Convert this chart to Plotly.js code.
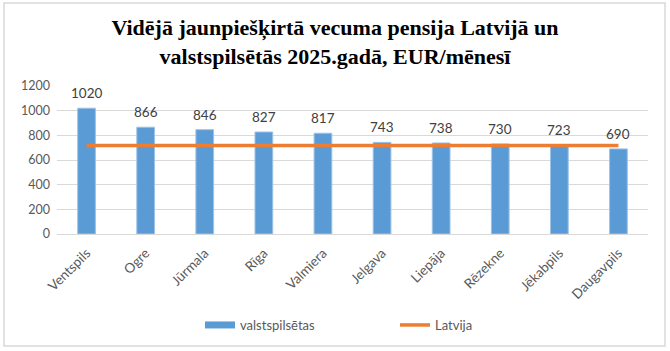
<!DOCTYPE html>
<html><head><meta charset="utf-8">
<script src="https://cdn.plot.ly/plotly-3.0.1.min.js"></script>
<style>html,body{margin:0;padding:0;background:#fff}#chart{width:670px;height:351px}</style>
</head><body><div id="chart"></div>
<script>
const categories = ["Ventspils","Ogre","Jūrmala","Rīga","Valmiera","Jelgava","Liepāja","Rēzekne","Jēkabpils","Daugavpils"];
const cityValues = [1020,866,846,827,817,743,738,730,723,690];
const latvijaValues = [718,718,718,718,718,718,718,718,718,718];
const yTicks = [0,200,400,600,800,1000,1200];

const FONT = 'Lato, Open Sans, sans-serif';
const bars = {
  type:'bar', name:'valstspilsētas', x:categories, y:cityValues,
  marker:{color:'#5B9BD5', line:{color:'#9DC3E6', width:1}},
  width:0.3, showlegend:false,
  hoverinfo:'x+y'
};
// legend-only entry styled like the reference's wide bar swatch
const barLegend = {
  type:'scatter', mode:'lines', name:'valstspilsētas', x:[null], y:[null],
  line:{color:'#5B9BD5', width:7}, hoverinfo:'skip'
};
const line = {
  type:'scatter', mode:'lines', name:'Latvija', x:categories, y:latvijaValues,
  line:{color:'#ED7D31', width:3.5}
};
const labels = categories.map((c,i)=>({
  x:c, y:cityValues[i], xref:'x', yref:'y', text:String(cityValues[i]),
  showarrow:false, yanchor:'bottom', yshift:5,
  font:{family:FONT, size:13.5, color:'#404040'}
}));
const layout = {
  width:670, height:351,
  margin:{l:57, r:22, t:86, b:117},
  paper_bgcolor:'#fff', plot_bgcolor:'#fff',
  title:{text:'<b>Vidējā jaunpiešķirtā vecuma pensija Latvijā un<br>valstspilsētās 2025.gadā, EUR/mēnesī</b>',
    font:{family:'Liberation Serif, Times New Roman, serif', size:22, color:'#000'},
    x:0.5, xanchor:'center', xref:'container', yref:'container', y:0.9, yanchor:'top'},
  xaxis:{type:'category', tickangle:-45, automargin:false,
    tickfont:{family:FONT, size:13.5, color:'#595959'}, ticklabelstandoff:5,
    showgrid:false, showline:true, linecolor:'#D9D9D9', linewidth:1, ticks:'', fixedrange:true},
  yaxis:{range:[0,1200], tickvals:yTicks, ticktext:yTicks.map(String), automargin:false,
    tickfont:{family:FONT, size:12.5, color:'#595959'}, ticklabelstandoff:6,
    showgrid:true, gridcolor:'#D9D9D9', gridwidth:1, zeroline:false, showline:false, ticks:'', fixedrange:true},
  showlegend:true,
  legend:{orientation:'h', xref:'container', yref:'container', x:200/670, xanchor:'left', y:1-325/351, yanchor:'middle',
    font:{family:FONT, size:13, color:'#595959'},
    entrywidth:150, itemwidth:30},
  annotations:labels,
  shapes:[{type:'rect', xref:'paper', yref:'paper', x0:(4-57)/591, x1:(665-57)/591, y0:(234-346)/148, y1:(234-3)/148,
    line:{color:'#D9D9D9', width:1.5}, fillcolor:'rgba(0,0,0,0)'}]
};
Plotly.newPlot('chart',[bars,barLegend,line],layout,{displayModeBar:false, staticPlot:true});
</script></body></html>
